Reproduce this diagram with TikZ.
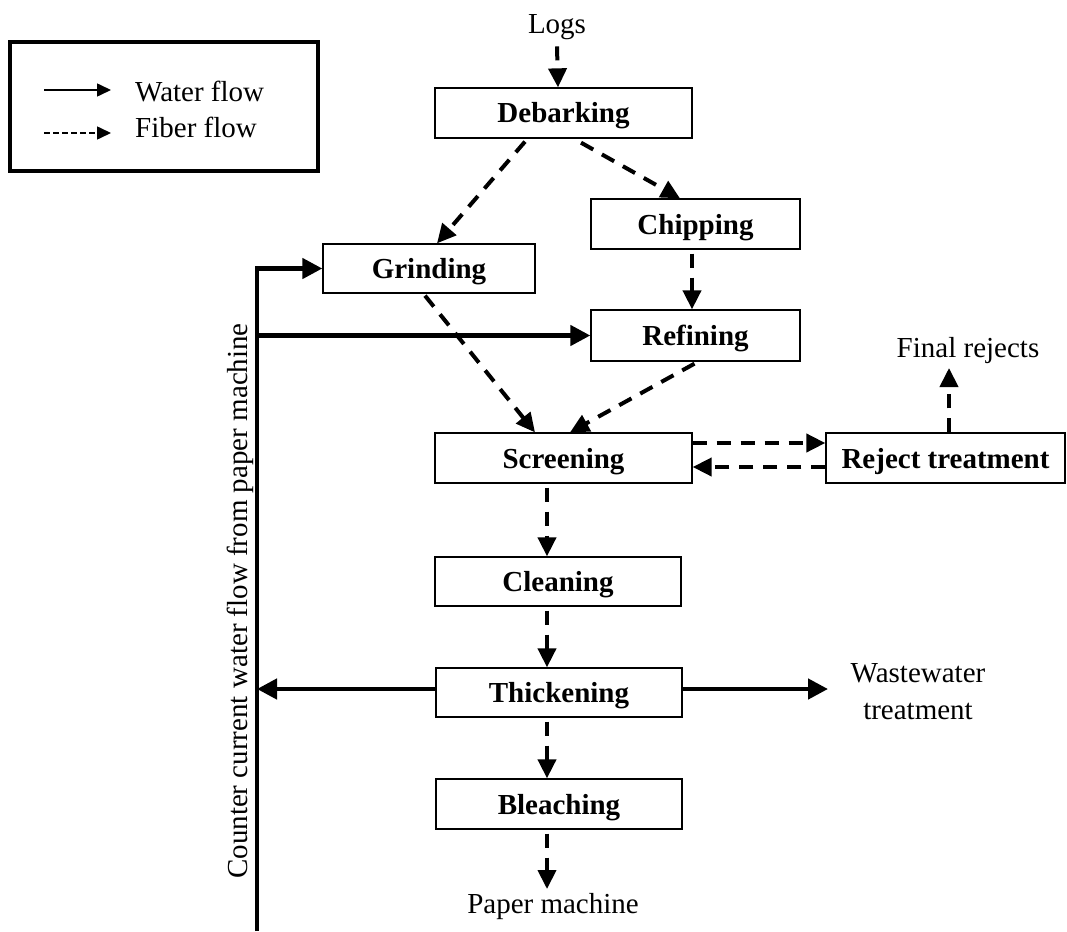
\documentclass[tikz,border=0pt]{standalone}
\usepackage{fontspec}
\setmainfont{Liberation Serif}
\usetikzlibrary{arrows.meta}

\begin{document}
\begin{tikzpicture}[x=1pt,y=-1pt,
  txt/.style={font=\fontsize{29}{37}\selectfont, inner sep=0pt},
  box/.style={draw, line width=1.3pt, rectangle, inner sep=0pt,
              text height=20pt, text depth=0pt,
              font=\fontsize{29}{36}\selectfont\bfseries},
  fiber/.style={line width=4pt, dash pattern=on 14pt off 10pt,
                -{Triangle[length=19pt,width=18pt]}},
  water/.style={line width=4.5pt, line join=miter,
                -{Triangle[length=20pt,width=20pt]}},
]
\useasboundingbox (0,0) rectangle (1067,931);

% legend
\node[draw, line width=4pt, minimum width=308pt, minimum height=129pt, inner sep=0pt]
  (legend) at (164,106.5) {};
\coordinate (lw1) at (44,90);  \coordinate (lw2) at (111,90);
\coordinate (lf1) at (44,133); \coordinate (lf2) at (111,133);
\draw[line width=1.6pt, -{Triangle[length=14pt,width=13pt]}] (lw1) -- (lw2);
\draw[line width=1.6pt, dash pattern=on 6pt off 3pt,
      -{Triangle[length=14pt,width=13pt]}] (lf1) -- (lf2);
\node[txt, anchor=base west] (lwt) at (135,102) {Water flow};
\node[txt, anchor=base west] (lft) at (135,137) {Fiber flow};

% process boxes
\node[box, minimum width=257pt, minimum height=50pt] (deb)    at (563.5,113)   {Debarking};
\node[box, minimum width=209pt, minimum height=50pt] (chip)   at (695.5,224)   {Chipping};
\node[box, minimum width=212pt, minimum height=49pt] (grind)  at (429,268.5)   {Grinding};
\node[box, minimum width=209pt, minimum height=51pt] (ref)    at (695.5,335.5) {Refining};
\node[box, minimum width=257pt, minimum height=50pt] (scr)    at (563.5,458)   {Screening};
\node[box, minimum width=239pt, minimum height=50pt] (rej)    at (945.5,458)   {Reject treatment};
\node[box, minimum width=246pt, minimum height=49pt] (clean)  at (558,581.5)   {Cleaning};
\node[box, minimum width=246pt, minimum height=49pt] (thick)  at (559,692.5)   {Thickening};
\node[box, minimum width=246pt, minimum height=50pt] (bleach) at (559,804)     {Bleaching};

% free labels
\node[txt, anchor=base] (logs) at (557,34)  {Logs};
\node[txt, anchor=base] (fr)   at (968,357) {Final rejects};
\node[txt, align=center] (ww)  at (918,692) {Wastewater\\treatment};
\node[txt, anchor=base] (pm)   at (553,913) {Paper machine};
\node[txt, rotate=90] (cc) at (240,601) {Counter current water flow from paper machine};

% fiber flow
\draw[fiber] ([yshift=-6pt]logs.south) -- ([xshift=-5.5pt]deb.north);
\draw[fiber] ([xshift=-38.5pt,yshift=-3pt]deb.south) -- ([xshift=8pt]grind.north);
\draw[fiber] ([xshift=17.5pt,yshift=-4pt]deb.south) -- ([xshift=-15.5pt]chip.north);
\draw[fiber] ([xshift=-3.5pt,yshift=-4pt]chip.south) -- ([xshift=-3.5pt]ref.north);
\draw[fiber] ([xshift=-4pt,yshift=-2pt]grind.south) -- ([xshift=-28.5pt]scr.north);
\draw[fiber] ([xshift=-1pt,yshift=-2pt]ref.south) -- ([xshift=6.5pt]scr.north);
\draw[fiber] ([yshift=15pt]scr.east) -- ([yshift=15pt]rej.west);
\draw[fiber] ([yshift=-9pt]rej.west) -- ([yshift=-9pt]scr.east);
\coordinate (frtip) at (949,368);
\draw[fiber] ([xshift=3.5pt]rej.north) -- (frtip);
\draw[fiber] ([xshift=-16.5pt,yshift=-4pt]scr.south) -- ([xshift=-11pt]clean.north);
\draw[fiber] ([xshift=-11pt,yshift=-4pt]clean.south) -- ([xshift=-12pt]thick.north);
\draw[fiber] ([xshift=-12pt,yshift=-4pt]thick.south) -- ([xshift=-12pt]bleach.north);
\coordinate (pmtip) at (547,889);
\draw[fiber] ([xshift=-12pt,yshift=-4pt]bleach.south) -- (pmtip);

% water flow
\coordinate (wbot) at (257,931);
\draw[water] (wbot) |- (grind.west);
\draw[water] (wbot |- ref.west) -- (ref.west);
\coordinate (tw) at ([yshift=3.5pt]thick.west);
\coordinate (te) at ([yshift=3.5pt]thick.east);
\draw[water] (tw) -- (tw -| wbot);
\coordinate (wwtip) at (828,689);
\draw[water] (te) -- (wwtip);
\end{tikzpicture}
\end{document}
